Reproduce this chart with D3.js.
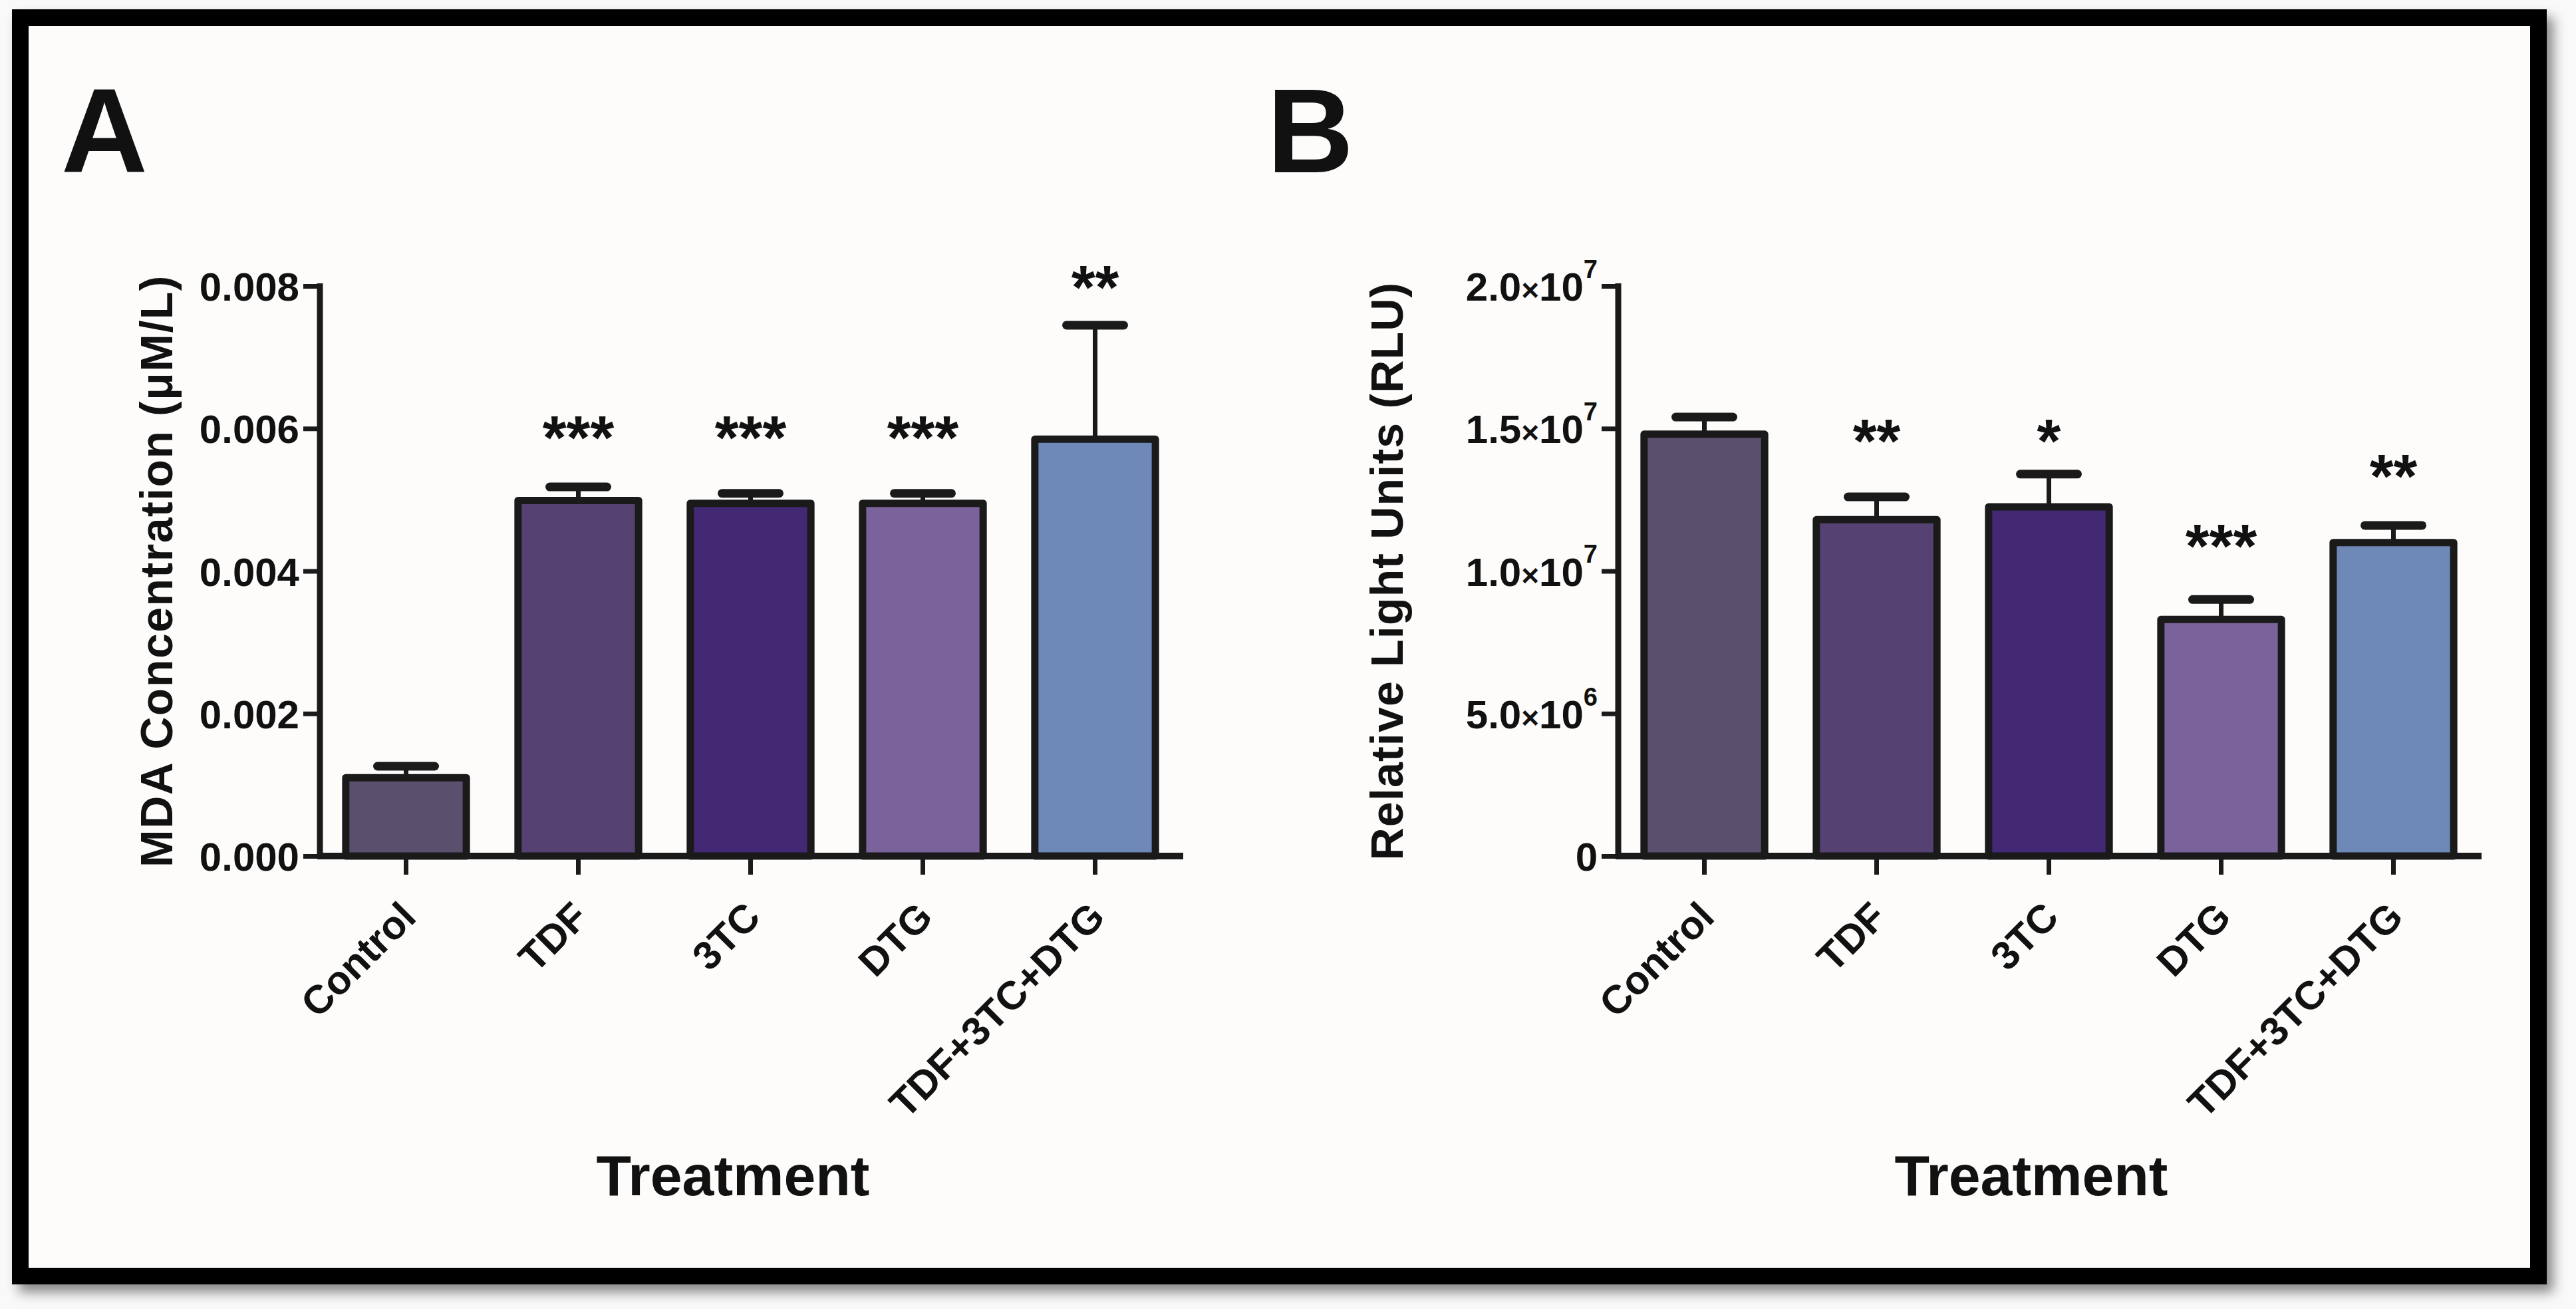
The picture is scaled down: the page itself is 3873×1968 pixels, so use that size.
<!DOCTYPE html>
<html>
<head>
<meta charset="utf-8">
<script src="https://cdn.jsdelivr.net/npm/d3@7"></script>
<style>
  html, body { margin: 0; padding: 0; background: #f9f9f9; }
  svg { display: block; }
  text { font-family: "Liberation Sans", Arial, sans-serif; font-weight: bold; fill: #111; }
</style>
</head>
<body>
<svg id="chart" width="3873" height="1968"></svg>
<script>
// ---------------- data ----------------
const categories = ["Control", "TDF", "3TC", "DTG", "TDF+3TC+DTG"];
const barColors = ["#5a4f6c", "#554272", "#432873", "#7a629a", "#6e88b8"];

// Panel A: MDA concentration (µM/L)
const mdaMean = [0.00110, 0.00499, 0.00495, 0.00495, 0.00585];
const mdaSem  = [0.00016, 0.00019, 0.00014, 0.00014, 0.00160];
const mdaStars = ["", "***", "***", "***", "**"];
const mdaStarLevel = [null, 0.00604, 0.00604, 0.00604, 0.00815];
const mdaTicks = [0, 0.002, 0.004, 0.006, 0.008];
const mdaTickLabels = ["0.000", "0.002", "0.004", "0.006", "0.008"];

// Panel B: Relative light units (RLU)
const rluMean = [14.8e6, 11.8e6, 12.25e6, 8.3e6, 11.0e6];
const rluSem  = [0.6e6, 0.8e6, 1.15e6, 0.7e6, 0.6e6];
const rluStars = ["", "**", "*", "***", "**"];
const rluStarLevel = [null, 14.98e6, 14.98e6, 11.3e6, 13.75e6];
const rluTicks = [0, 5e6, 1e7, 1.5e7, 2e7];
const rluTickMantissa = ["0", "5.0", "1.0", "1.5", "2.0"];
const rluTickExponent = ["", "6", "7", "7", "7"];

// ---------------- drawing ----------------
const svg = d3.select("#chart");
const defs = svg.append("defs");
const f = defs.append("filter").attr("id", "shadow")
  .attr("x", "-5%").attr("y", "-5%").attr("width", "110%").attr("height", "110%");
f.append("feDropShadow").attr("dx", 10).attr("dy", 12).attr("stdDeviation", 9)
  .attr("flood-color", "#000").attr("flood-opacity", 0.45);

// frame
svg.append("rect")
  .attr("x", 30.5).attr("y", 26.5).attr("width", 3786).attr("height", 1892)
  .attr("fill", "#fdfcfb").attr("stroke", "#000").attr("stroke-width", 25)
  .attr("filter", "url(#shadow)");

const yTop = 430, yBottom = 1287;

function panel(opts) {
  const g = svg.append("g");
  const axisX = opts.axisX;
  const x = d3.scaleBand().domain(categories)
    .range([axisX, axisX + 1295]).paddingInner(0.3).paddingOuter(0.15);
  const y = d3.scaleLinear().domain([0, opts.max]).range([yBottom, yTop]);

  // bars
  g.selectAll("rect.bar").data(categories).join("rect")
    .attr("class", "bar")
    .attr("x", d => x(d))
    .attr("width", x.bandwidth())
    .attr("y", (d, i) => y(opts.mean[i]))
    .attr("height", (d, i) => y(0) - y(opts.mean[i]))
    .attr("fill", (d, i) => barColors[i])
    .attr("stroke", "#1a1a1a").attr("stroke-width", 11)
    .attr("stroke-linejoin", "round");

  // error bars
  const eb = g.selectAll("g.err").data(categories).join("g").attr("class", "err");
  eb.append("line")
    .attr("x1", d => x(d) + x.bandwidth() / 2)
    .attr("x2", d => x(d) + x.bandwidth() / 2)
    .attr("y1", (d, i) => y(opts.mean[i]))
    .attr("y2", (d, i) => y(opts.mean[i] + opts.sem[i]))
    .attr("stroke", "#1a1a1a").attr("stroke-width", 7);
  eb.append("line")
    .attr("x1", d => x(d) + x.bandwidth() / 2 - 43)
    .attr("x2", d => x(d) + x.bandwidth() / 2 + 43)
    .attr("y1", (d, i) => y(opts.mean[i] + opts.sem[i]))
    .attr("y2", (d, i) => y(opts.mean[i] + opts.sem[i]))
    .attr("stroke", "#1a1a1a").attr("stroke-width", 13)
    .attr("stroke-linecap", "round");

  // y axis
  const yAxis = d3.axisLeft(y).tickValues(opts.ticks).tickSize(25).tickSizeOuter(0)
    .tickPadding(6).tickFormat((d, i) => opts.tickLabel ? opts.tickLabel[i] : "");
  const ya = g.append("g").attr("transform", `translate(${axisX},0)`).call(yAxis);
  ya.select(".domain").attr("stroke", "#1a1a1a").attr("stroke-width", 9)
    .attr("d", `M0,${yTop - 4}V${yBottom}`);
  ya.selectAll(".tick line").attr("stroke", "#1a1a1a").attr("stroke-width", 7);
  ya.selectAll(".tick text").attr("font-size", 60).attr("fill", "#111")
    .attr("font-family", '"Liberation Sans", Arial, sans-serif').attr("font-weight", "bold")
    .attr("dy", "0.36em");
  if (opts.mantissa) {
    ya.selectAll(".tick text").each(function (d, i) {
      const t = d3.select(this);
      t.text(null);
      if (opts.exponent[i] === "") {
        t.append("tspan").text(opts.mantissa[i]);
      } else {
        t.append("tspan").text(opts.mantissa[i]);
        t.append("tspan").attr("font-size", 46).text("\u00d7");
        t.append("tspan").text("10");
        t.append("tspan").attr("font-size", 38).attr("dy", "-0.9em").text(opts.exponent[i]);
      }
    });
  }

  // x axis
  const xAxis = d3.axisBottom(x).tickSize(28).tickSizeOuter(0);
  const xa = g.append("g").attr("transform", `translate(0,${yBottom})`).call(xAxis);
  xa.select(".domain").attr("stroke", "#1a1a1a").attr("stroke-width", 10)
    .attr("d", `M${axisX - 4},0H${axisX + 1298}`);
  xa.selectAll(".tick line").attr("stroke", "#1a1a1a").attr("stroke-width", 7);
  xa.selectAll(".tick text")
    .attr("font-size", 60).attr("fill", "#111")
    .attr("font-family", '"Liberation Sans", Arial, sans-serif').attr("font-weight", "bold")
    .attr("x", 0).attr("y", 0).attr("dy", 0)
    .attr("text-anchor", "end")
    .attr("transform", "translate(18,95) rotate(-45)");

  // significance stars
  g.selectAll("text.star").data(categories).join("text")
    .attr("class", "star")
    .attr("x", d => x(d) + x.bandwidth() / 2)
    .attr("y", (d, i) => opts.starLevel[i] == null ? 0 : y(opts.starLevel[i]) + 50)
    .attr("text-anchor", "middle")
    .attr("font-size", 92)
    .text((d, i) => opts.stars[i]);

  // y title
  g.append("text")
    .attr("transform", `translate(${opts.titleX},${(yTop + yBottom) / 2}) rotate(-90)`)
    .attr("text-anchor", "middle").attr("font-size", 68)
    .attr("letter-spacing", opts.titleSpacing)
    .text(opts.yTitle);

  // x title
  g.append("text")
    .attr("x", axisX + 621).attr("y", 1797)
    .attr("text-anchor", "middle").attr("font-size", 86)
    .text("Treatment");

  // panel letter
  g.append("text")
    .attr("x", opts.letterX).attr("y", 259)
    .attr("font-size", 180)
    .text(opts.letter);
}

panel({
  axisX: 481, max: 0.008, mean: mdaMean, sem: mdaSem,
  stars: mdaStars, starLevel: mdaStarLevel,
  ticks: mdaTicks, tickLabel: mdaTickLabels,
  yTitle: "MDA Concentration (\u03bcM/L)", titleX: 259, titleSpacing: 1.5,
  letter: "A", letterX: 92
});

panel({
  axisX: 2433, max: 2e7, mean: rluMean, sem: rluSem,
  stars: rluStars, starLevel: rluStarLevel,
  ticks: rluTicks, tickLabel: rluTickMantissa,
  mantissa: rluTickMantissa, exponent: rluTickExponent,
  yTitle: "Relative Light Units (RLU)", titleX: 2109, titleSpacing: 1.2,
  letter: "B", letterX: 1905
});
</script>
</body>
</html>
